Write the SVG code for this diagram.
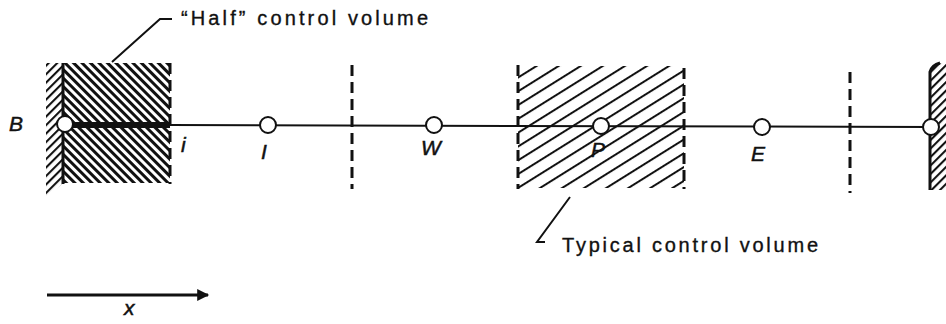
<svg xmlns="http://www.w3.org/2000/svg" width="946" height="324" viewBox="0 0 946 324">
<style>
.lbl{font-family:"Liberation Sans",Arial,sans-serif;font-size:20px;fill:#111;stroke:#111;stroke-width:0.35}
.var{font-family:"Liberation Sans",Arial,sans-serif;font-style:italic;font-size:21px;fill:#111;stroke:#111;stroke-width:0.5}
.dash{stroke:#111;stroke-width:3;stroke-dasharray:11 6;fill:none}
.ln{stroke:#111;fill:none}
.node{fill:#fff;stroke:#111;stroke-width:2}
</style>
<defs>
<pattern id="dense" patternUnits="userSpaceOnUse" width="6" height="20" patternTransform="rotate(-45)">
<line x1="1.5" y1="0" x2="1.5" y2="20" stroke="#111" stroke-width="3"/>
</pattern>
<pattern id="wall" patternUnits="userSpaceOnUse" width="6" height="20" patternTransform="rotate(45)">
<line x1="1" y1="0" x2="1" y2="20" stroke="#111" stroke-width="2.2"/>
</pattern>
<pattern id="sparse" patternUnits="userSpaceOnUse" width="11.7" height="30" patternTransform="rotate(58)">
<line x1="1" y1="0" x2="1" y2="30" stroke="#111" stroke-width="2"/>
</pattern>
<marker id="arr" viewBox="0 0 10 10" refX="9" refY="5" markerWidth="6" markerHeight="4" markerUnits="strokeWidth" orient="auto">
<path d="M0,0 L10,5 L0,10 Z" fill="#111"/>
</marker>
</defs>

<g id="left-wall">
<polygon points="46,63 63,63 63,183 46,198" fill="url(#wall)"/>
<line class="ln" x1="63" y1="63" x2="63" y2="184" stroke-width="3"/>
</g>

<g id="half-cv">
<rect x="63" y="63" width="107" height="120" fill="url(#dense)"/>
<line class="dash" x1="170" y1="63" x2="170" y2="184"/>
</g>

<g id="typical-cv">
<rect x="518" y="66" width="166" height="122" fill="url(#sparse)"/>
<line class="dash" x1="518" y1="65" x2="518" y2="189"/>
<line class="dash" x1="684" y1="68" x2="684" y2="189"/>
</g>

<g id="face-w">
<line class="dash" x1="352" y1="65" x2="352" y2="189"/>
</g>
<g id="face-e">
<line class="dash" x1="850" y1="72" x2="850" y2="193"/>
</g>

<g id="right-wall">
<polygon points="930,70 940,63 946,63 946,190 930,190" fill="url(#wall)"/>
<path class="ln" d="M930,190 L930,72 Q932,65 940,63" stroke-width="3"/>
</g>

<g id="connectors">
<line class="ln" x1="65" y1="125" x2="170" y2="125" stroke-width="6"/>
<line class="ln" x1="170" y1="125" x2="931" y2="127" stroke-width="2"/>
<polyline class="ln" points="112,62 160,19 172,19" stroke-width="2"/>
<polyline class="ln" points="570,197 537,242 545,242" stroke-width="2"/>
<line class="ln" x1="47" y1="295" x2="208" y2="295" stroke-width="3" marker-end="url(#arr)"/>
</g>

<g id="node-B"><circle class="node" cx="65" cy="124" r="8"/><text class="var" x="9" y="131">B</text></g>
<g id="node-i"><text class="var" x="181" y="152">i</text></g>
<g id="node-I"><circle class="node" cx="268" cy="125" r="8"/><text class="var" x="261" y="159">I</text></g>
<g id="node-W"><circle class="node" cx="434" cy="125" r="8"/><text class="var" x="421" y="155">W</text></g>
<g id="node-P"><circle class="node" cx="601" cy="126" r="8"/><text class="var" x="591" y="157">P</text></g>
<g id="node-E"><circle class="node" cx="762" cy="127" r="8"/><text class="var" x="751" y="161">E</text></g>
<g id="node-R"><circle class="node" cx="931" cy="127" r="8"/></g>

<g id="label-half"><text class="lbl" x="181" y="25" textLength="247" lengthAdjust="spacing">“Half” control volume</text></g>
<g id="label-typical"><text class="lbl" x="562" y="252" textLength="256" lengthAdjust="spacing">Typical control volume</text></g>
<g id="label-x"><text class="var" x="124" y="315">x</text></g>
</svg>
